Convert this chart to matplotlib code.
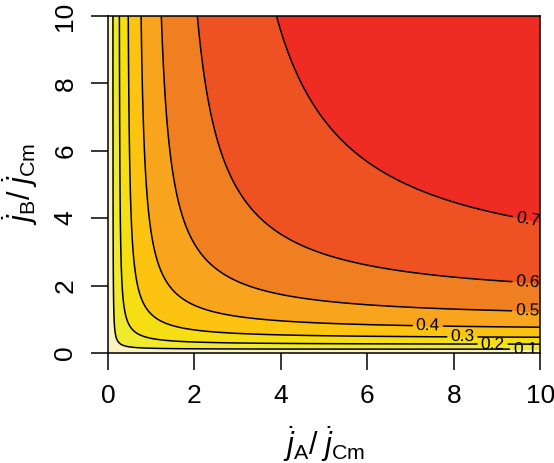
import numpy as np
import matplotlib
matplotlib.use("Agg")
import matplotlib.pyplot as plt

plt.rcParams['font.family'] = ['Liberation Sans', 'DejaVu Sans']
plt.rcParams['mathtext.fontset'] = 'custom'
plt.rcParams['mathtext.rm'] = 'Liberation Sans'
plt.rcParams['mathtext.it'] = 'Liberation Sans:italic'

# scaled fluxes on both axes
jA = np.linspace(0.001, 10, 501)
jB = np.linspace(0.001, 10, 501)

# contour levels and band colours (low -> high)
levels = [0.0, 0.1, 0.2, 0.3, 0.4, 0.5, 0.6, 0.7, 0.8]
line_levels = [0.1, 0.2, 0.3, 0.4, 0.5, 0.6, 0.7]
band_colors = ["#FBF4C2", "#EFEA30", "#F6DE14", "#FCC411",
               "#F8A51D", "#F07F22", "#EE5222", "#EE2C24"]
xticks = [0, 2, 4, 6, 8, 10]
yticks = [0, 2, 4, 6, 8, 10]

# production rate surface, j_C / j_Cm
X, Y = np.meshgrid(jA, jB)
Z = 1.0 / (1.0 + 1.0 / X + 1.0 / Y + 1.0 / (X + Y))

fig = plt.figure(figsize=(5.54, 4.63), dpi=100)
ax = fig.add_axes([0.195, 0.2376, 0.78, 0.728])

ax.contourf(X, Y, Z, levels=levels, colors=band_colors)
cs = ax.contour(X, Y, Z, levels=line_levels, colors="black", linewidths=1.1)

# label spots near the right edge, as in the original
spots = [(9.65, 0.07), (8.9, 0.22), (8.2, 0.4), (7.4, 0.72),
         (9.7, 1.16), (9.7, 1.97), (9.7, 3.9)]
ax.clabel(cs, fmt="%.1f", fontsize=12.5, inline=True, inline_spacing=3, manual=spots)

ax.set_xlim(0, 10)
ax.set_ylim(0, 10)
ax.set_xticks(xticks)
ax.set_yticks(yticks)
ax.tick_params(axis="both", direction="out", length=12, width=1.1, labelsize=19, pad=10)
for lab in ax.get_yticklabels():
    lab.set_rotation(90)
    lab.set_va("center")
for sp in ax.spines.values():
    sp.set_linewidth(1.1)

ax.set_xlabel(r"$\dot{j}_{\mathrm{A}}/\;\dot{j}_{\mathrm{Cm}}$", fontsize=22, labelpad=12)
ax.set_ylabel(r"$\dot{j}_{\mathrm{B}}/\;\dot{j}_{\mathrm{Cm}}$", fontsize=22, labelpad=10)

fig.savefig("out.png", dpi=100)
